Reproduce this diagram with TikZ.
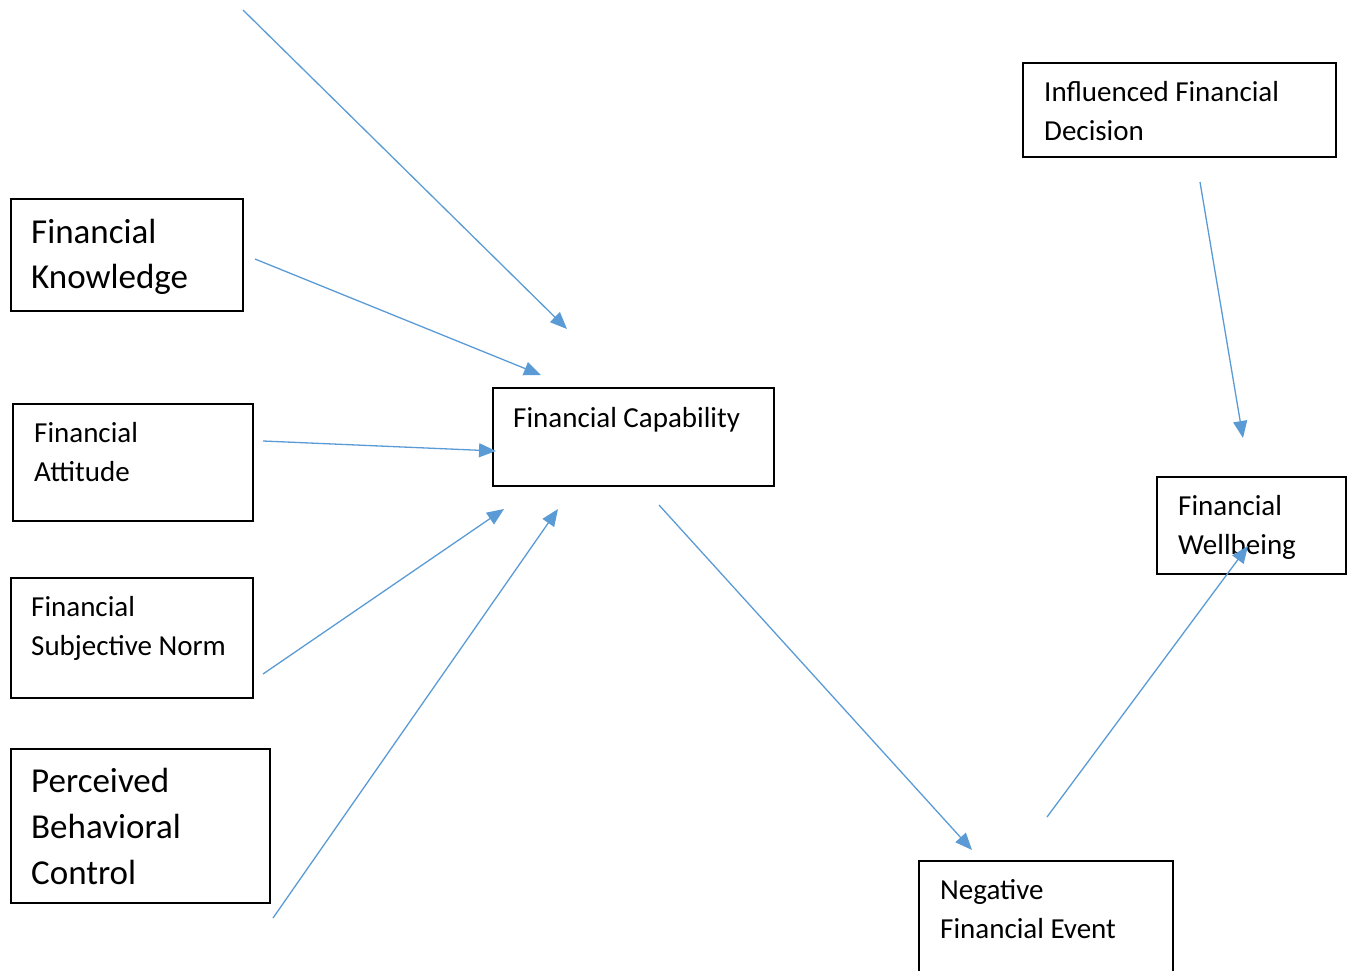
\documentclass[tikz,border=0pt]{standalone}
\usepackage{fontspec}
\setmainfont{Carlito}
\usetikzlibrary{arrows.meta}
\definecolor{arrowblue}{RGB}{91,155,213}
\tikzset{
  box/.style={draw=black, line width=1.3pt, rectangle},
  bigtxt/.style={anchor=base west, inner sep=0pt, font=\fontsize{35}{46}\selectfont, align=left},
  smalltxt/.style={anchor=base west, inner sep=0pt, font=\fontsize{29}{39}\selectfont, align=left},
  link/.style={draw=arrowblue, line width=1.3pt, -{Triangle[length=17pt,width=14pt]}}
}
\begin{document}
\begin{tikzpicture}[x=1pt,y=-1pt]
\useasboundingbox (0,0) rectangle (1351,970);
\clip (0,0) rectangle (1351,970);
% boxes
\draw[box] (11,199) rectangle (243,311) coordinate (knowBR);
\draw[box] (13,404) rectangle (253,521);
\draw[box] (11,578) rectangle (253,698);
\draw[box] (11,749) rectangle (270,903);
\draw[box] (493,388) rectangle (774,486);
\draw[box] (1023,63) rectangle (1336,157);
\draw[box] (1157,477) rectangle (1346,574);
\draw[box] (919,861) rectangle (1173,990);
% texts
\node[bigtxt] (know1) at (31,243) {Financial};
\node[bigtxt] (know2) at (31,288) {Knowledge};
\node[smalltxt] (att1) at (34,442) {Financial};
\node[smalltxt] (att2) at (34,481) {Attitude};
\node[smalltxt] (norm1) at (31,616) {Financial};
\node[smalltxt] (norm2) at (31,655) {Subjective Norm};
\node[bigtxt] (pbc1) at (31,792) {Perceived};
\node[bigtxt] (pbc2) at (31,838) {Behavioral};
\node[bigtxt] (pbc3) at (31,884) {Control};
\node[smalltxt] (cap) at (513,427) {Financial Capability};
\node[smalltxt] (inf1) at (1044,101) {Influenced Financial};
\node[smalltxt] (inf2) at (1044,140) {Decision};
\node[smalltxt] (well1) at (1178,515) {Financial};
\node[smalltxt] (well2) at (1178,554) {Wellbeing};
\node[smalltxt] (neg1) at (940,899) {Negative};
\node[smalltxt] (neg2) at (940,938) {Financial Event};
% arrow endpoints
\coordinate (a1s) at (243,10);  \coordinate (a1e) at (567,329);
\coordinate (a2s) at (255,259); \coordinate (a2e) at (541,375);
\coordinate (a3s) at (263,441); \coordinate (a3e) at (496,451);
\coordinate (a4s) at (263,674); \coordinate (a4e) at (504,509);
\coordinate (a5s) at (273,918); \coordinate (a5e) at (558,509);
\coordinate (a6s) at (659,505); \coordinate (a6e) at (972,850);
\coordinate (a7s) at (1200,182); \coordinate (a7e) at (1243,438);
\coordinate (a8s) at (1047,817); \coordinate (a8e) at (1248,546);
\draw[link] (a1s) -- (a1e);
\draw[link] (a2s) -- (a2e);
\draw[link] (a3s) -- (a3e);
\draw[link] (a4s) -- (a4e);
\draw[link] (a5s) -- (a5e);
\draw[link] (a6s) -- (a6e);
\draw[link] (a7s) -- (a7e);
\draw[link] (a8s) -- (a8e);
\end{tikzpicture}
\end{document}
